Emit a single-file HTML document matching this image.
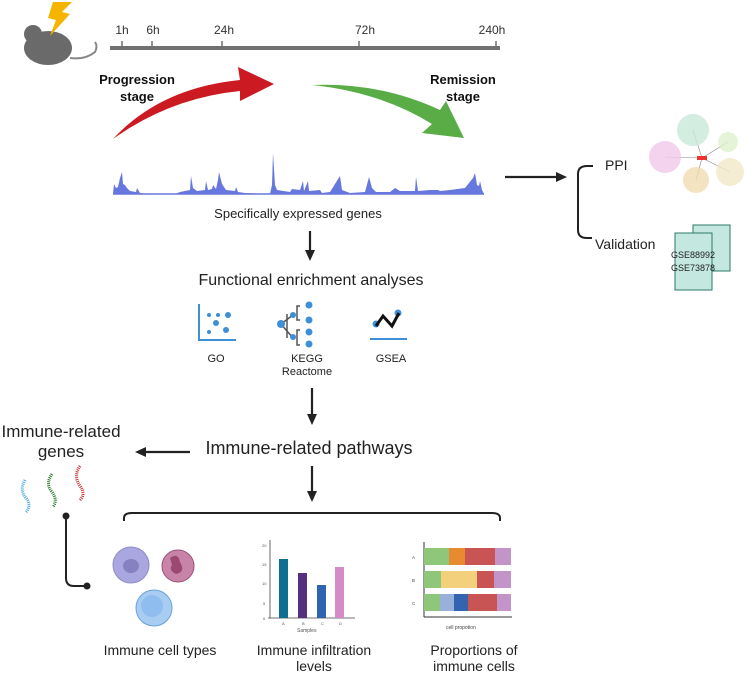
<!DOCTYPE html>
<html><head><meta charset="utf-8"><style>
html,body{margin:0;padding:0;background:#fff}
svg{display:block;font-family:"Liberation Sans",sans-serif}
</style></head><body>
<svg width="749" height="674" viewBox="0 0 749 674">
<defs>
<marker id="ah" markerWidth="12" markerHeight="12" refX="8" refY="5" orient="auto" markerUnits="userSpaceOnUse"><path d="M0,0 L11,5 L0,10 Z" fill="#222"/></marker>
</defs>
<!-- mouse -->
<ellipse cx="48" cy="48" rx="24" ry="17" fill="#6a6a6a"/>
<circle cx="33" cy="34" r="9" fill="#6a6a6a"/>
<path d="M70,58 Q85,60 95,52 Q98,46 95,42" stroke="#888" stroke-width="2" fill="none"/>
<path d="M53,2 L72,2 L62,12 L70,14 L50,36 L56,20 L48,18 Z" fill="#f5b400"/>
<!-- timeline -->
<rect x="110" y="46" width="390" height="4" fill="#707070"/>
<g stroke="#707070" stroke-width="1.5"><line x1="122" y1="41" x2="122" y2="47"/><line x1="152" y1="41" x2="152" y2="47"/><line x1="222" y1="41" x2="222" y2="47"/><line x1="359" y1="41" x2="359" y2="47"/><line x1="496" y1="41" x2="496" y2="47"/></g>
<g font-size="12" fill="#333" text-anchor="middle"><text x="122" y="34">1h</text><text x="153" y="34">6h</text><text x="224" y="34">24h</text><text x="365" y="34">72h</text><text x="492" y="34">240h</text></g>
<g font-size="13" font-weight="bold" fill="#111" text-anchor="middle"><text x="137" y="84">Progression</text><text x="137" y="101">stage</text><text x="463" y="84">Remission</text><text x="463" y="101">stage</text></g>
<path d="M113,139 Q160,88 240,80 L238,67 L274,84 L240,101 L240,91 Q170,98 113,139 Z" fill="#cc1a22"/>
<path d="M312,85 Q380,82 440,110 L446,101 L464,138 L422,133 L432,124 Q380,92 312,85 Z" fill="#5aad46"/>
<!-- histogram -->
<path d="M113,194 L114,184 L116,188 L118,187 L120,178 L122,172 L123,184 L125,185 L127,188 L130,191 L136,192 L137,188 L140,193 L150,194 L175,194 L180,192 L190,190 L191,176 L193,188 L197,191 L205,190 L206,181 L208,190 L212,189 L213,185 L216,189 L218,180 L219,172 L222,184 L226,190 L235,191 L236,187 L238,192 L245,193 L270,194 L272,185 L273,153 L275,185 L277,190 L290,192 L292,189 L300,190 L303,181 L304,191 L308,181 L309,191 L320,190 L322,193 L330,192 L340,176 L342,190 L350,193 L365,192 L369,177 L372,188 L376,192 L390,192 L395,188 L400,191 L415,191 L416,177 L418,191 L430,190 L438,190 L440,191 L450,190 L465,188 L473,178 L475,173 L477,185 L479,186 L480,181 L482,190 L484,194 Z" fill="#6677dd"/>
<line x1="113" y1="194" x2="484" y2="194" stroke="#6677dd" stroke-width="1.5"/>
<text x="298" y="218" font-size="13" fill="#222" text-anchor="middle">Specifically expressed genes</text>
<!-- arrows -->
<g stroke="#222" stroke-width="2.2" fill="none" marker-end="url(#ah)">
<line x1="310" y1="231" x2="310" y2="258"/>
<line x1="312" y1="388" x2="312" y2="422"/>
<line x1="312" y1="466" x2="312" y2="499"/>
<line x1="190" y1="452" x2="138" y2="452"/>
<line x1="505" y1="177" x2="564" y2="177"/>
</g>
<text x="311" y="285" font-size="16" fill="#222" text-anchor="middle">Functional enrichment analyses</text>
<!-- GO icon -->
<path d="M199,304 L199,340 L236,340" stroke="#3d8fd6" stroke-width="2" fill="none"/>
<g fill="#3d8fd6"><circle cx="209" cy="315" r="2"/><circle cx="218" cy="315" r="2"/><circle cx="228" cy="315" r="3"/><circle cx="216" cy="323" r="3"/><circle cx="209" cy="332" r="2"/><circle cx="226" cy="330" r="3"/></g>
<!-- KEGG icon -->
<path d="M281,324 L293,315 M281,324 L293,338 M300,306 L297,306 L297,320 L300,320 M300,330 L297,330 L297,345 L300,345" stroke="#555" stroke-width="1.5" fill="none"/>
<path d="M287,314 L287,338" stroke="#555" stroke-width="1.5"/>
<g fill="#3d8fd6"><circle cx="281" cy="324" r="4"/><circle cx="293" cy="315" r="3"/><circle cx="293" cy="337" r="3"/><circle cx="309" cy="305" r="3.5"/><circle cx="309" cy="320" r="3.5"/><circle cx="309" cy="332" r="3.5"/><circle cx="309" cy="344" r="3.5"/></g>
<!-- GSEA -->
<line x1="370" y1="339" x2="407" y2="339" stroke="#3d8fd6" stroke-width="2"/>
<circle cx="376" cy="324" r="3.5" fill="#3d8fd6"/><circle cx="398" cy="313" r="3.5" fill="#3d8fd6"/>
<path d="M376,326 L383,316 L392,326 L399,313" stroke="#111" stroke-width="3" fill="none"/>
<g font-size="11" fill="#222" text-anchor="middle"><text x="216" y="362">GO</text><text x="307" y="362">KEGG</text><text x="307" y="375">Reactome</text><text x="391" y="362">GSEA</text></g>
<text x="309" y="454" font-size="18" fill="#222" text-anchor="middle">Immune-related pathways</text>
<text x="61" y="437" font-size="17" fill="#222" text-anchor="middle">Immune-related</text>
<text x="61" y="457" font-size="17" fill="#222" text-anchor="middle">genes</text>
<!-- genes -->
<path d="M25,480 Q19,490 26,498 Q32,505 26,512" stroke="#4aa9e0" stroke-width="3" stroke-dasharray="1 1" fill="none"/>
<path d="M52,474 Q45,484 52,492 Q58,500 53,507" stroke="#2a7a2a" stroke-width="3" stroke-dasharray="1 1" fill="none"/>
<path d="M80,466 Q73,476 80,486 Q86,494 80,500" stroke="#d03030" stroke-width="3" stroke-dasharray="1 1" fill="none"/>
<path d="M66,516 L66,578 Q66,586 74,586 L87,586" stroke="#222" stroke-width="2" fill="none"/>
<circle cx="66" cy="516" r="3.5" fill="#222"/><circle cx="87" cy="586" r="3.5" fill="#222"/>
<!-- bracket bottom -->
<path d="M124,521 L124,518 Q124,513 132,513 L492,513 Q500,513 500,518 L500,521" stroke="#222" stroke-width="2" fill="none"/>
<!-- right bracket -->
<path d="M593,166 L587,166 Q578,166 578,174 L578,230 Q578,238 587,238 L592,238" stroke="#222" stroke-width="2" fill="none"/>
<text x="605" y="170" font-size="14" fill="#222">PPI</text>
<text x="595" y="249" font-size="14" fill="#222">Validation</text>
<!-- network -->
<g stroke="#888" stroke-width="0.6">
<line x1="702" y1="158" x2="665" y2="157"/><line x1="702" y1="158" x2="693" y2="130"/><line x1="702" y1="158" x2="728" y2="142"/><line x1="702" y1="158" x2="730" y2="172"/><line x1="702" y1="158" x2="696" y2="180"/></g>
<circle cx="665" cy="157" r="16" fill="#f0c8e8" opacity=".8"/>
<circle cx="693" cy="130" r="16" fill="#c8ead8" opacity=".8"/>
<circle cx="728" cy="142" r="10" fill="#dff0cc" opacity=".8"/>
<circle cx="730" cy="172" r="14" fill="#f3e8c8" opacity=".8"/>
<circle cx="696" cy="180" r="13" fill="#f0dcb0" opacity=".8"/>
<rect x="697" y="156" width="10" height="4" fill="#e33"/>
<!-- docs -->
<rect x="693" y="225" width="37" height="46" fill="#c4e8df" stroke="#2b7a6a" stroke-width="1"/>
<rect x="675" y="233" width="37" height="57" fill="#c4e8df" stroke="#2b7a6a" stroke-width="1"/>
<text x="693" y="258" font-size="9" fill="#222" text-anchor="middle">GSE88992</text>
<text x="693" y="271" font-size="9" fill="#222" text-anchor="middle">GSE73878</text>
<!-- cells -->
<circle cx="131" cy="565" r="18" fill="#a9a6e0" stroke="#8f8ccc"/>
<ellipse cx="131" cy="566" rx="8" ry="7" fill="#8682c2"/>
<circle cx="178" cy="566" r="16" fill="#c884a8" stroke="#9a5078"/>
<path d="M170,558 Q178,552 180,562 Q186,572 176,574 Q168,570 172,565 Z" fill="#9a4a72"/>
<circle cx="154" cy="608" r="18" fill="#a9cdf2" stroke="#6aa0dc"/>
<circle cx="152" cy="606" r="11" fill="#90bdf0"/>
<!-- bar chart -->
<g stroke="#444" stroke-width="0.8"><line x1="270" y1="540" x2="270" y2="618"/><line x1="268" y1="618" x2="355" y2="618"/></g>
<g font-size="4" fill="#555"><text x="262" y="547">20</text><text x="262" y="566">15</text><text x="262" y="585">10</text><text x="263" y="605">5</text><text x="263" y="620">0</text><text x="282" y="625">A</text><text x="302" y="625">B</text><text x="321" y="625">C</text><text x="339" y="625">D</text><text x="297" y="632" font-size="5">Samples</text></g>
<rect x="279" y="559" width="9" height="59" fill="#0e7090"/>
<rect x="298" y="573" width="9" height="45" fill="#55307f"/>
<rect x="317" y="585" width="9" height="33" fill="#2f64b0"/>
<rect x="335" y="567" width="9" height="51" fill="#d68ac8"/>
<!-- proportions -->
<g stroke="#333" stroke-width="1"><line x1="424" y1="542" x2="424" y2="617"/><line x1="424" y1="617" x2="512" y2="617"/></g>
<g font-size="4.5" fill="#444"><text x="412" y="559">A</text><text x="412" y="582">B</text><text x="412" y="605">C</text><text x="446" y="629" font-size="5">cell propotion</text></g>
<rect x="424" y="548" width="25" height="17" fill="#8fc77a"/><rect x="449" y="548" width="16" height="17" fill="#e88a30"/><rect x="465" y="548" width="30" height="17" fill="#c85454"/><rect x="495" y="548" width="16" height="17" fill="#c294c8"/>
<rect x="424" y="571" width="17" height="17" fill="#8fc77a"/><rect x="441" y="571" width="36" height="17" fill="#f3d07c"/><rect x="477" y="571" width="17" height="17" fill="#c85454"/><rect x="494" y="571" width="17" height="17" fill="#c294c8"/>
<rect x="424" y="594" width="16" height="17" fill="#8fc77a"/><rect x="440" y="594" width="14" height="17" fill="#9ab0dc"/><rect x="454" y="594" width="14" height="17" fill="#3464b0"/><rect x="468" y="594" width="29" height="17" fill="#c85454"/><rect x="497" y="594" width="14" height="17" fill="#c294c8"/>
<g font-size="14" fill="#222" text-anchor="middle"><text x="160" y="655">Immune cell types</text><text x="314" y="655">Immune infiltration</text><text x="314" y="671">levels</text><text x="474" y="655">Proportions of</text><text x="474" y="671">immune cells</text></g>
</svg>
</body></html>
